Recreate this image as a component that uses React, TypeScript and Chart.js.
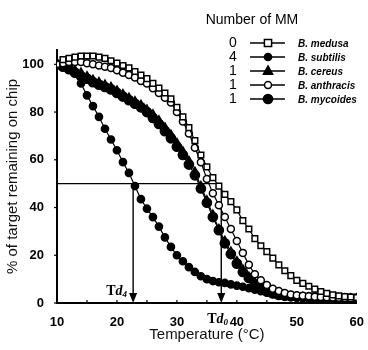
import React, { useEffect, useRef } from 'react';
import { Chart, registerables } from 'chart.js';

Chart.register(...registerables);

const temperatures = [10, 11, 12, 13, 14, 15, 16, 17, 18, 19, 20, 21, 22, 23, 24, 25, 26, 27, 28, 29, 30, 31, 32, 33, 34, 35, 36, 37, 38, 39, 40, 41, 42, 43, 44, 45, 46, 47, 48, 49, 50, 51, 52, 53, 54, 55, 56, 57, 58, 59, 60];

const medusa = [100, 102, 102.5, 103, 103.5, 103.5, 103.5, 103, 102.5, 101.5, 100.5, 99.5, 98.5, 97, 95.5, 94, 92, 90, 88, 85.5, 82, 78, 73.5, 68, 62, 57, 52.5, 49, 45.5, 42.5, 39, 34.5, 31, 27, 24, 21.5, 18.8, 16, 13.5, 11.5, 9.5, 8.2, 7, 5.8, 4.8, 4, 3.4, 3, 2.7, 2.5, 2.3];
const subtilis = [100, 99.5, 98.5, 96.5, 92, 87, 82.5, 78, 73, 68.5, 64, 59, 54.5, 49, 43.5, 39.5, 36, 32, 27.5, 23.5, 20, 17.5, 15, 13, 11.2, 10, 9.2, 8.7, 8.4, 7.8, 7.3, 6.8, 6.2, 5.6, 5, 4.4, 3.8, 3.3, 2.9, 2.6, 2.4, 2.3, 2.2, 2.1, 2, 2, 1.9, 1.9, 1.8, 1.8, 1.7];
const cereus = [100, 99.5, 98.5, 97.5, 96.5, 95, 93.5, 92.5, 91.5, 90.5, 89, 87.5, 86, 84.5, 83, 81, 79, 76.5, 73.5, 70.5, 67, 63.5, 59.5, 55, 49, 43, 37, 31, 26, 21.5, 17.5, 14, 11, 8.5, 6.5, 5, 4, 3.3, 3, 2.8, 2.6, 2.5, 2.4, 2.3, 2.2, 2.2, 2.1, 2.1, 2, 2, 2];
const anthracis = [100, 100.5, 101, 101, 101, 100.5, 100, 99.5, 99, 98.5, 97.5, 96.5, 95.5, 94.5, 93, 92, 90, 88, 86, 84, 80, 76, 71, 65, 59, 52, 46, 41, 36, 31, 26, 21, 16, 12, 9.5, 7.5, 6, 5, 4.2, 3.6, 3.2, 3, 2.8, 2.6, 2.5, 2.4, 2.3, 2.2, 2.1, 2, 2];
const mycoides = [100, 99, 98, 96.5, 95, 94, 92.5, 91.5, 90.5, 89.5, 88, 86.5, 85, 83.5, 82, 80, 77.5, 75, 72, 69, 65.5, 62, 58, 53.5, 48, 42, 36, 30.5, 25, 20.5, 16.5, 13, 10.5, 8, 6.2, 4.8, 4, 3.4, 3, 2.8, 2.6, 2.5, 2.4, 2.3, 2.2, 2.1, 2.1, 2, 2, 2, 2];

const mmCounts = ['0', '4', '1', '1', '1'];
const speciesNames = ['B. medusa', 'B. subtilis', 'B. cereus', 'B. anthracis', 'B. mycoides'];
const xLabelTicks = [10, 20, 30, 40, 50, 60];
const xMinorTicks = [15, 20, 25, 30, 35, 40, 45, 50, 55];
const yLabelTicks = [0, 20, 40, 60, 80, 100];
const td4 = 22.7;
const td0 = 37.4;
const halfLevel = 50;

type Marker = { style: string; radius: number; fill: string };
const markers: Marker[] = [
  { style: 'rect', radius: 4, fill: '#ffffff' },
  { style: 'circle', radius: 3.6, fill: '#000000' },
  { style: 'triangle', radius: 4.6, fill: '#000000' },
  { style: 'circle', radius: 3.5, fill: '#ffffff' },
  { style: 'circle', radius: 4.6, fill: '#000000' },
];

function drawMarker(ctx: CanvasRenderingContext2D, m: Marker, x: number, y: number) {
  ctx.save();
  ctx.fillStyle = m.fill;
  ctx.strokeStyle = '#000';
  ctx.lineWidth = 1.5;
  ctx.beginPath();
  if (m.style === 'rect') {
    const s = m.radius * 0.9;
    ctx.rect(x - s, y - s, 2 * s, 2 * s);
  } else if (m.style === 'triangle') {
    const r = m.radius;
    ctx.moveTo(x, y - r * 1.1);
    ctx.lineTo(x + r, y + r * 0.7);
    ctx.lineTo(x - r, y + r * 0.7);
    ctx.closePath();
  } else {
    ctx.arc(x, y, m.radius, 0, Math.PI * 2);
  }
  ctx.fill();
  ctx.stroke();
  ctx.restore();
}

const annotations = {
  id: 'annotations',
  beforeDatasetsDraw(chart: any) {
    const { ctx, scales } = chart;
    const xs = scales.x;
    const ys = scales.y;
    ctx.save();
    ctx.strokeStyle = '#000';
    ctx.lineWidth = 1.4;
    const yHalf = ys.getPixelForValue(halfLevel);
    const y0 = ys.getPixelForValue(0);
    ctx.beginPath();
    ctx.moveTo(xs.getPixelForValue(10), yHalf);
    ctx.lineTo(xs.getPixelForValue(td0), yHalf);
    ctx.stroke();
    for (const t of [td4, td0]) {
      const px = xs.getPixelForValue(t);
      ctx.beginPath();
      ctx.moveTo(px, yHalf);
      ctx.lineTo(px, y0 - 6);
      ctx.stroke();
      ctx.fillStyle = '#000';
      ctx.beginPath();
      ctx.moveTo(px, y0);
      ctx.lineTo(px - 4, y0 - 10);
      ctx.lineTo(px + 4, y0 - 10);
      ctx.closePath();
      ctx.fill();
    }
    ctx.restore();
  },
  afterDraw(chart: any) {
    const { ctx, scales } = chart;
    const xs = scales.x;
    const ys = scales.y;
    const yb = ys.getPixelForValue(0);
    const xl = xs.getPixelForValue(10);
    ctx.save();
    ctx.strokeStyle = '#000';
    ctx.lineWidth = 1.2;
    for (const t of xMinorTicks) {
      const px = xs.getPixelForValue(t);
      ctx.beginPath();
      ctx.moveTo(px, yb);
      ctx.lineTo(px, yb - 3);
      ctx.stroke();
    }
    for (const v of yLabelTicks) {
      const py = ys.getPixelForValue(v);
      ctx.beginPath();
      ctx.moveTo(xl, py);
      ctx.lineTo(xl - 3, py);
      ctx.stroke();
    }
    const drawTd = (x: number, y: number, sub: string) => {
      ctx.fillStyle = '#000';
      ctx.textBaseline = 'alphabetic';
      ctx.textAlign = 'left';
      ctx.font = 'bold 14px "Liberation Serif"';
      ctx.fillText('T', x, y);
      const w1 = ctx.measureText('T').width;
      ctx.font = 'italic bold 14px "Liberation Serif"';
      ctx.fillText('d', x + w1, y);
      const w2 = ctx.measureText('d').width;
      ctx.font = 'italic bold 9px "Liberation Serif"';
      ctx.fillText(sub, x + w1 + w2, y + 2);
    };
    drawTd(xs.getPixelForValue(td4) - 27, yb - 8, '4');
    drawTd(xs.getPixelForValue(td0) - 14, yb + 20, '0');

    ctx.fillStyle = '#000';
    ctx.font = '14px "Liberation Sans"';
    ctx.textAlign = 'center';
    ctx.textBaseline = 'middle';
    ctx.fillText('Number of MM', 252, 20);
    const rowY = [43, 57, 71, 85, 99];
    for (let i = 0; i < speciesNames.length; i++) {
      const y = rowY[i];
      ctx.font = '14px "Liberation Sans"';
      ctx.textAlign = 'center';
      ctx.fillStyle = '#000';
      ctx.fillText(mmCounts[i], 233, y);
      ctx.strokeStyle = '#000';
      ctx.lineWidth = 1.4;
      ctx.beginPath();
      ctx.moveTo(250, y);
      ctx.lineTo(285, y);
      ctx.stroke();
      drawMarker(ctx, markers[i], 268, y);
      ctx.fillStyle = '#000';
      ctx.textAlign = 'left';
      ctx.font = 'italic bold 10px "Liberation Sans"';
      ctx.fillText(speciesNames[i], 298, y + 1);
    }
    ctx.restore();
  },
};

const seriesList = [medusa, subtilis, cereus, anthracis, mycoides];
const drawOrder = [0, 3, 1, 2, 4];

export default function App() {
  const canvasRef = useRef<HTMLCanvasElement | null>(null);
  useEffect(() => {
    if (!canvasRef.current) return;
    const datasets = drawOrder.map((i) => ({
      label: speciesNames[i],
      data: temperatures.map((t, k) => ({ x: t, y: seriesList[i][k] })),
      borderColor: '#000',
      borderWidth: 1.2,
      backgroundColor: markers[i].fill,
      pointStyle: markers[i].style as any,
      pointRadius: markers[i].radius,
      pointBorderWidth: 1.5,
      pointBorderColor: '#000',
      pointBackgroundColor: markers[i].fill,
      tension: 0,
      fill: false,
    }));
    const chart = new Chart(canvasRef.current, {
      type: 'line',
      data: { datasets },
      options: {
        animation: false,
        responsive: false,
        maintainAspectRatio: false,
        layout: { padding: { left: 0, right: 11, top: 50, bottom: 0 } },
        plugins: { legend: { display: false }, tooltip: { enabled: false } },
        scales: {
          x: {
            type: 'linear',
            min: 10,
            max: 60,
            afterFit: (s: any) => { s.height = 47; },
            afterBuildTicks: (s: any) => { s.ticks = xLabelTicks.map((v) => ({ value: v })); },
            ticks: {
              color: '#000',
              font: { family: '"Liberation Sans"', size: 13, weight: 'bold' },
              padding: 4,
              maxRotation: 0,
              autoSkip: false,
            },
            grid: { display: false },
            border: { color: '#000', width: 2 },
            title: {
              display: true,
              text: 'Temperature (°C)',
              color: '#111',
              font: { family: '"Liberation Sans"', size: 15 },
              padding: { top: 0, bottom: 6 },
            },
          },
          y: {
            type: 'linear',
            min: 0,
            max: 106,
            afterFit: (s: any) => { s.width = 57; },
            afterBuildTicks: (s: any) => { s.ticks = yLabelTicks.map((v) => ({ value: v })); },
            ticks: {
              color: '#000',
              font: { family: '"Liberation Sans"', size: 13, weight: 'bold' },
              padding: 5,
            },
            grid: { display: false },
            border: { color: '#000', width: 2 },
            title: {
              display: true,
              text: '% of target remaining on chip',
              color: '#111',
              font: { family: '"Liberation Sans"', size: 15 },
              padding: { top: 4, bottom: 0 },
            },
          },
        },
      },
      plugins: [annotations],
    });
    return () => chart.destroy();
  }, []);
  return (
    <div style={{ position: 'absolute', left: 0, top: 0, width: 368, height: 350, background: '#fff' }}>
      <canvas ref={canvasRef} width={368} height={350} style={{ width: 368, height: 350 }} />
    </div>
  );
}
